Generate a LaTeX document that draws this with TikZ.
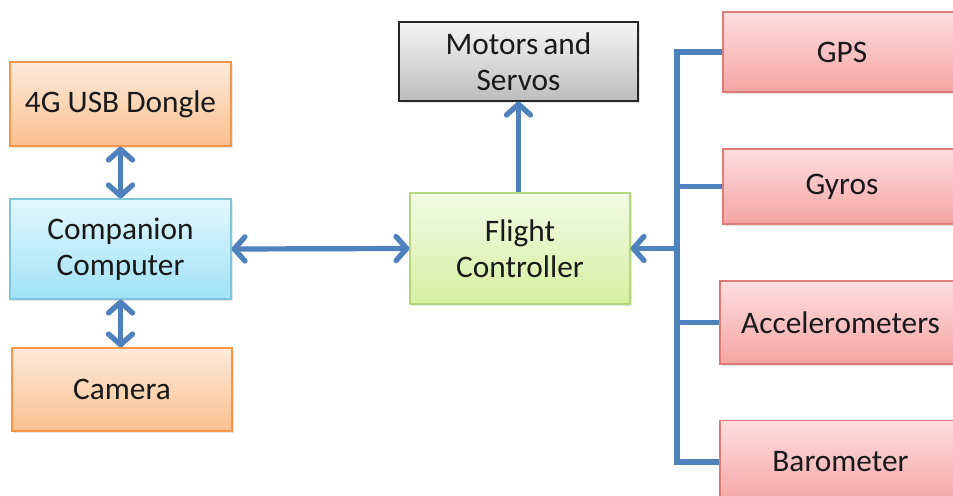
\documentclass[tikz,border=0pt]{standalone}
\usepackage{fontspec}
\setmainfont{Carlito}
\usepackage{xcolor}
\usetikzlibrary{arrows.meta,shadows}

\definecolor{linkblue}{HTML}{4F81BD}
\definecolor{orgtop}{HTML}{FDEADA}
\definecolor{orgbot}{HTML}{FAC08F}
\definecolor{orgline}{HTML}{F79646}
\definecolor{cyntop}{HTML}{E3F7FD}
\definecolor{cynbot}{HTML}{A0E2F7}
\definecolor{cynline}{HTML}{7FC6DC}
\definecolor{grntop}{HTML}{F3FAE6}
\definecolor{grnbot}{HTML}{D5F0A0}
\definecolor{grnline}{HTML}{B5D67A}
\definecolor{grytop}{HTML}{F5F5F5}
\definecolor{grybot}{HTML}{BDBDBD}
\definecolor{redtop}{HTML}{FDDEDE}
\definecolor{redbot}{HTML}{F6A4A4}
\definecolor{redline}{HTML}{DE7C7A}

\tikzset{
  block/.style={rectangle, align=center, text=black!90, line width=0.9pt,
    font=\fontsize{23.5}{27}\selectfont,
    drop shadow={opacity=0.2, shadow xshift=1.2pt, shadow yshift=-1.2pt}},
  orangebox/.style={block, draw=orgline, top color=orgtop, bottom color=orgbot},
  cyanbox/.style={block, draw=cynline, top color=cyntop, bottom color=cynbot},
  greenbox/.style={block, draw=grnline, top color=grntop, bottom color=grnbot},
  graybox/.style={block, draw=black!85, top color=grytop, bottom color=grybot},
  redbox/.style={block, draw=redline, top color=redtop, bottom color=redbot},
  link/.style={draw=linkblue, line width=3.9pt},
  tip/.tip={Straight Barb[length=8pt, width=18pt, line width=4pt, round]}
}

\begin{document}
\begin{tikzpicture}[x=0.75pt,y=0.75pt,yscale=-1,xscale=1]
\clip (0,0) rectangle (953,496);
\fill[white] (0,0) rectangle (953,496);

% left column
\node[orangebox, minimum width=165.75pt, minimum height=63pt] (dongle) at (120.5,104) {4G USB Dongle};
\node[cyanbox, minimum width=165.75pt, minimum height=75pt] (companion) at (120.5,249) {Companion\\Computer};
\node[orangebox, minimum width=165pt, minimum height=62.25pt] (camera) at (122,389.5) {Camera};

% middle
\node[graybox, minimum width=179.25pt, minimum height=59.25pt] (motors) at (518.5,61.5) {Motors\,and\\Servos};
\node[greenbox, minimum width=165pt, minimum height=83.25pt] (flight) at (520,248.5) {Flight\\Controller};

% sensors on the right
\node[redbox, minimum width=178.5pt, minimum height=60pt] (gps) at (842,52) {GPS};
\node[redbox, minimum width=178.5pt, minimum height=56.25pt] (gyros) at (842,186.5) {Gyros};
\node[redbox, minimum width=180.75pt, minimum height=62.25pt] (accel) at (840.5,322.5) {Accelerometers};
\node[redbox, minimum width=180.75pt, minimum height=62pt] (baro) at (840.5,462) {Barometer};

\coordinate (hub) at (677,248.5);

% connectors
\draw[link, {tip}-{tip}] (dongle.south) -- (companion.north);
\draw[link, {tip}-{tip}] (companion.south) -- (camera.north -| companion.south);
\draw[link, {tip}-{tip}] (companion.east) -- (flight.west);
\draw[link, -{tip}] (flight.north -| motors.south) -- (motors.south);

% sensor bus
\draw[link] (gps.west) -| (hub) |- (baro.west);
\draw[link] (gyros.west) -- (gyros.west -| hub);
\draw[link] (accel.west) -- (accel.west -| hub);
\draw[link, -{tip}] (hub) -- (flight.east);
\end{tikzpicture}
\end{document}
